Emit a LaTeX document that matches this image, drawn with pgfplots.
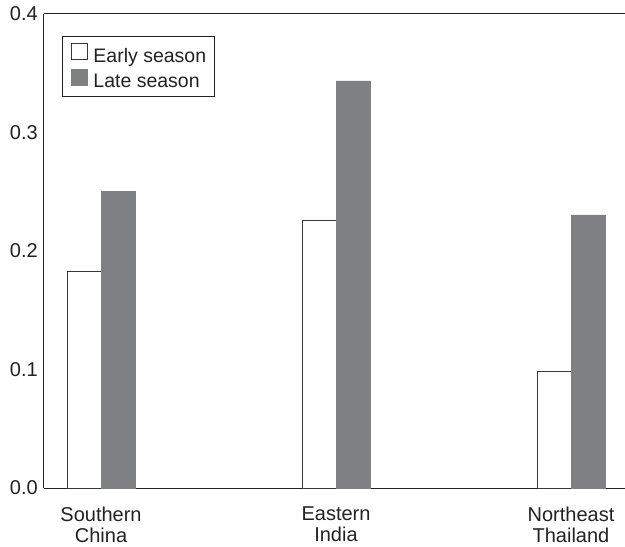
\documentclass[border=0pt]{standalone}
\usepackage{pgfplots}
\pgfplotsset{compat=1.18}
\usepackage{fontspec}
\setmainfont{Liberation Sans}
\definecolor{barg}{RGB}{127,128,132}
\definecolor{ink}{RGB}{34,34,34}
\begin{document}
\begin{tikzpicture}
\begin{axis}[
  name=ax,
  scale only axis,
  width=581pt, height=474pt,
  xmin=-0.2426, xmax=2.2298,
  ymin=0, ymax=0.4,
  axis x line*=bottom, axis y line*=left,
  axis line style={-, ink, line width=1pt},
  xtick={0,1,2},
  xticklabels={Southern\\China, Eastern\\India, Northeast\\Thailand},
  ytick={0,0.1,0.2,0.3,0.4},
  major tick length=0pt,
  /pgf/number format/.cd, fixed, fixed zerofill, precision=1, assume math mode=true,
  /pgfplots/.cd,
  tick label style={font=\fontsize{20}{21}\selectfont, text=ink},
  xticklabel style={align=center, yshift=-15pt},
  yticklabel style={inner sep=6pt},
  ybar, bar width=34pt,
  legend style={at={(axis description cs:0.031,0.9536)}, anchor=north west,
    draw=ink, line width=0.9pt, font=\fontsize{19.5}{21}\selectfont, text=ink,
    inner xsep=5pt, inner ysep=7pt, row sep=4pt,
    nodes={inner xsep=3pt, inner ysep=1pt},
    legend cell align=left},
  legend image code/.code={\path[draw=none,fill=none] (0pt,0pt) -- (23pt,0pt); \draw[#1, line width=0.8pt] (3.5pt,-4pt) rectangle (19.5pt,12pt);},
]
\addplot[bar shift=-17pt, fill=white, draw=ink!90, line width=0.9pt]
  coordinates {(0,0.1831) (1,0.2262) (2,0.0987)};
\addlegendentry{Early season}
\addplot[bar shift=17pt, fill=barg, draw=barg, line width=0.5pt]
  coordinates {(0,0.2506) (1,0.3435) (2,0.2304)};
\addlegendentry{Late season}
\draw[ink, line width=1pt] (rel axis cs:0,1) -- (rel axis cs:1,1);
\end{axis}
\pgfresetboundingbox
\path ([xshift=-44pt,yshift=-59pt]ax.south west) rectangle ([yshift=14pt]ax.north east);
\end{tikzpicture}
\end{document}
